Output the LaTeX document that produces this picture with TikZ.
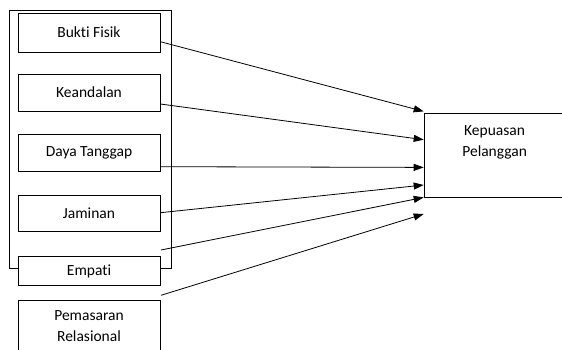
\documentclass[tikz,border=0pt]{standalone}
\usepackage{fontspec}
\setmainfont{Carlito}[Ligatures={NoCommon,NoContextual}]
\usetikzlibrary{arrows.meta}
\tikzset{
  varbox/.style={draw, fill=white, line width=0.8pt, inner sep=0pt,
    minimum width=142pt, font=\fontsize{15.5}{21}\selectfont},
  link/.style={line width=0.8pt, -{Triangle[length=10pt,width=7pt]}},
  frame/.style={draw, line width=0.8pt},
  txt/.style={font=\fontsize{15.5}{21}\selectfont, align=center, inner sep=0pt}
}
\begin{document}
\begin{tikzpicture}[x=1pt,y=-1pt]
\useasboundingbox (0,0) rectangle (562,350);
% group frame around the service-quality dimensions
\draw[frame] (9,10) rectangle (171,268.7);
% independent variables
\node[varbox, minimum height=39pt] (bf) at (89,32.5) {Bukti Fisik};
\node[varbox, minimum height=37pt] (ke) at (89,92.5) {Keandalan};
\node[varbox, minimum height=37pt] (dt) at (89,152.5) {Daya Tanggap};
\node[varbox, minimum height=36.5pt] (ja) at (89,213.5) {Jaminan};
\node[varbox, minimum height=29.5pt] (em) at (89,271) {Empati};
\node[varbox, minimum height=60pt, anchor=north] (pr) at (89,300.3) {};
\node[txt, anchor=north] (prt) at ([yshift=-10pt]pr.north) {Pemasaran\\Relasional};
% dependent variable
\node[varbox, minimum width=141pt, minimum height=84pt, anchor=north west] (kp) at (423.7,113.3) {};
\node[txt, anchor=north] (kpt) at ([yshift=-12pt]kp.north) {Kepuasan\\Pelanggan};
% free ends of the two lower arrows
\coordinate (s5) at (161,250);
\coordinate (s6) at (161,295.3);
% paths
\draw[link] ([yshift=-9.2pt]bf.east) -- ([yshift=44.3pt]kp.west);
\draw[link] ([yshift=-11.5pt]ke.east) -- ([yshift=16pt]kp.west);
\draw[link] ([yshift=-14.2pt]dt.east) -- ([yshift=-11.7pt]kp.west);
\draw[link] ([yshift=0.8pt]ja.east) -- ([yshift=-29.3pt]kp.west);
\draw[link] (s5) -- ([yshift=-41.7pt]kp.west);
\draw[link] (s6) -- ([yshift=-58.3pt]kp.west);
\end{tikzpicture}
\end{document}
